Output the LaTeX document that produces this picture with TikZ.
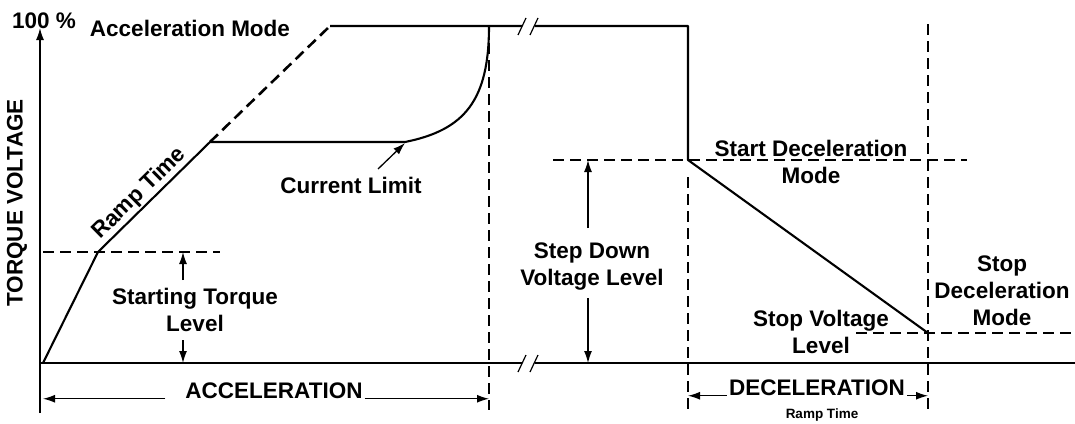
\documentclass[tikz,border=0pt]{standalone}
\usepackage{fontspec}
\setmainfont{Liberation Sans}
\usetikzlibrary{arrows.meta}
\tikzset{
  curve/.style    = {line width=2.1pt, line join=round},
  guide/.style    = {line width=2.6pt, dash pattern=on 11pt off 6pt},
  axisline/.style = {line width=1.4pt},
  brk/.style      = {line width=1.2pt},
  dim/.style      = {line width=1.3pt, -{Latex[length=12pt,width=8pt]}},
  lbl/.style      = {font=\bfseries\fontsize{22.5}{27}\selectfont,
                     align=center, inner sep=2pt},
  small/.style    = {font=\bfseries\fontsize{13.5}{15}\selectfont,
                     inner sep=1pt}
}

\begin{document}
\begin{tikzpicture}[x=1pt, y=-1pt]
  \useasboundingbox (0,0) rectangle (1075,423);

  \coordinate (ax0)    at (40,413);
  \coordinate (ax1)    at (40,28);
  \coordinate (o)      at (43,363);
  \coordinate (st)     at (98,252);
  \coordinate (cl)     at (210,142);
  \coordinate (full)   at (330,26);
  \coordinate (clend)  at (405,142);
  \coordinate (accend) at (489,26);
  \coordinate (drop)   at (688,26);
  \coordinate (sd)     at (688,160);
  \coordinate (sv)     at (928,333);
  \coordinate (xend)   at (1075,363);
  \coordinate (t1)     at (522,26);
  \coordinate (t2)     at (535,26);
  \coordinate (b0)     at (40,363);
  \coordinate (b1)     at (522,363);
  \coordinate (b2)     at (535,363);

  % axes
  \draw[axisline, -{Latex[length=12pt,width=8pt]}] (ax0) -- (ax1);
  \draw[axisline] (b0) -- (b1) (b2) -- (xend);
  \foreach \y in {26,363}
    \foreach \x in {518,530}
      \draw[brk] (\x,\y+9) -- (\x+8,\y-8);

  % voltage profile
  \draw[curve] (o) -- (st) -- (cl) -- (clend)
    .. controls (465,130) and (489,100) .. (accend);
  \draw[curve] (full) -- (t1) (t2) -- (drop) -- (sd) -- (sv);

  % guide lines
  \draw[guide] (cl) -- (full);
  \draw[guide] (43,252) -- (220,252);
  \draw[guide] (accend) -- (489,410);
  \draw[guide] (553,160) -- (967,160);
  \draw[guide] (688,177) -- (688,410);
  \draw[guide] (928,24) -- (928,410);
  \draw[guide] (856,333) -- (1075,333);

  % labels
  \node[lbl] (pct)      at (44,21)   {100 \%};
  \node[lbl] (accmode)  at (190,28)  {Acceleration Mode};
  \node[lbl, rotate=90] (ylbl) at (17,203) {TORQUE VOLTAGE};
  \path (st) -- (cl) node[lbl, sloped, above, pos=0.45] (ramplbl) {Ramp Time};
  \node[lbl] (curlim)   at (351,185) {Current Limit};
  \node[lbl] (sttq)     at (195,310) {Starting Torque\\Level};
  \node[lbl] (acc)      at (274,391) {ACCELERATION};
  \node[lbl] (stepdn)   at (592,267) {Step Down\\Voltage Level};
  \node[lbl] (startdec) at (811,162) {Start Deceleration\\Mode};
  \node[lbl] (stopv)    at (821,332) {Stop Voltage\\Level};
  \node[lbl] (stopdec)  at (1002,291) {Stop\\Deceleration\\Mode};
  \node[lbl] (dec)      at (817,388) {DECELERATION};
  \node[small] (decramp) at (822,415) {Ramp Time};

  % dimension arrows
  \coordinate (sq1) at (183,280);
  \coordinate (sq2) at (183,340);
  \coordinate (sdn1) at (588,228);
  \coordinate (sdn2) at (588,298);
  \coordinate (cla) at (378,169);
  \coordinate (clp) at (405,143);
  \draw[dim] (sq1) -- (sq1 |- st);
  \draw[dim] (sq2) -- (sq2 |- o);
  \draw[dim] (sdn1) -- (sdn1 |- sd);
  \draw[dim] (sdn2) -- (sdn2 |- o);
  \draw[dim] (cla) -- (clp);
  \draw[dim] ([xshift=-18pt]acc.base west) -- (acc.base west -| o);
  \draw[dim] (acc.base east) -- (acc.base east -| accend);
  \draw[dim] (dec.base west) -- (dec.base west -| sd);
  \draw[dim] (dec.base east) -- (dec.base east -| sv);
\end{tikzpicture}
\end{document}
